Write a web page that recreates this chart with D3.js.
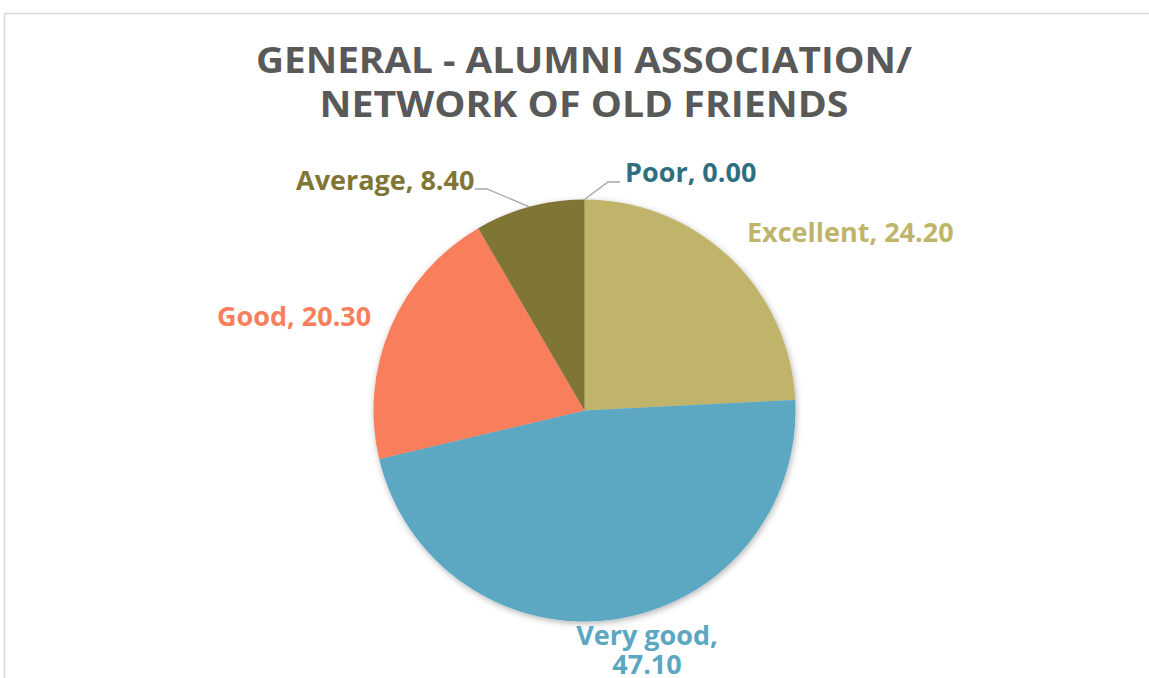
<!DOCTYPE html>
<html><head><meta charset="utf-8">
<script src="https://cdn.jsdelivr.net/npm/d3@7"></script>
<style>body{margin:0;background:#fff;} svg{display:block;}</style>
</head><body>
<svg id="c" width="1149" height="678"></svg>
<script>
// data
const categories = ["Excellent", "Very good", "Good", "Average", "Poor"];
const values = [24.20, 47.10, 20.30, 8.40, 0.00];
const colors = ["#C0B46A", "#5BA7C2", "#F97F5C", "#7F7535", "#2F6E80"];
const titleLines = ["GENERAL - ALUMNI ASSOCIATION/", "NETWORK OF OLD FRIENDS"];

const W = 1149, H = 678;
const svg = d3.select("#c");
const cx = 584.5, cy = 410.5, R = 211;

svg.append("rect").attr("x", 4.5).attr("y", 13.5).attr("width", 1160).attr("height", 700)
  .attr("fill", "#fff").attr("stroke", "#D9D9D9").attr("stroke-width", 1.5);

const defs = svg.append("defs");
const f = defs.append("filter").attr("id", "sh").attr("x", "-10%").attr("y", "-10%").attr("width", "120%").attr("height", "120%");
f.append("feDropShadow").attr("dx", 1).attr("dy", 2).attr("stdDeviation", 3).attr("flood-color", "#000").attr("flood-opacity", 0.3);

const titleW = [656, 529];
svg.append("g").selectAll("text").data(titleLines).join("text")
  .attr("x", 584).attr("y", (d, i) => 73 + i * 44)
  .attr("text-anchor", "middle")
  .attr("font-family", "'Open Sans', sans-serif")
  .attr("font-weight", "bold").attr("font-size", 36).attr("fill", "#595959")
  .attr("textLength", (d, i) => titleW[i]).attr("lengthAdjust", "spacingAndGlyphs")
  .text(d => d);

const data = categories.map((c, i) => ({ name: c, value: values[i], color: colors[i] }));
const pie = d3.pie().value(d => d.value).sort(null);
const arcs = pie(data);
const arc = d3.arc().innerRadius(0).outerRadius(R);

const g = svg.append("g").attr("transform", `translate(${cx},${cy})`);
g.append("g").attr("filter", "url(#sh)").selectAll("path").data(arcs).join("path")
  .attr("d", arc).attr("fill", d => d.data.color);

// label layout (positions only)
const layout = {
  "Excellent": { x: 747, y: [242], anchor: "start", lines: d => [`${d.name}, ${d.value.toFixed(2)}`] },
  "Very good": { x: 647, y: [645, 674], anchor: "middle", lines: d => [`${d.name},`, d.value.toFixed(2)] },
  "Good": { x: 217, y: [326], anchor: "start", lines: d => [`${d.name}, ${d.value.toFixed(2)}`] },
  "Average": { x: 296, y: [190], anchor: "start", lines: d => [`${d.name}, ${d.value.toFixed(2)}`], leader: [[487, 189], [475, 189]] },
  "Poor": { x: 625, y: [182], anchor: "start", lines: d => [`${d.name}, ${d.value.toFixed(2)}`], leader: [[608, 182], [620, 182]] }
};

arcs.forEach(a => {
  const L = layout[a.data.name];
  if (L.leader) {
    const mid = (a.startAngle + a.endAngle) / 2;
    const p0 = [cx + R * Math.sin(mid), cy - R * Math.cos(mid)];
    svg.append("path").attr("d", d3.line()([p0, ...L.leader]))
      .attr("fill", "none").attr("stroke", "#A6A6A6").attr("stroke-width", 1.3);
  }
  const t = svg.append("text").attr("text-anchor", L.anchor)
    .attr("font-family", "'Open Sans', sans-serif").attr("font-weight", "bold")
    .attr("font-size", 27).attr("fill", a.data.color);
  L.lines(a.data).forEach((s, i) => {
    t.append("tspan").attr("x", L.x).attr("y", L.y[i]).text(s);
  });
});
</script>
</body></html>
